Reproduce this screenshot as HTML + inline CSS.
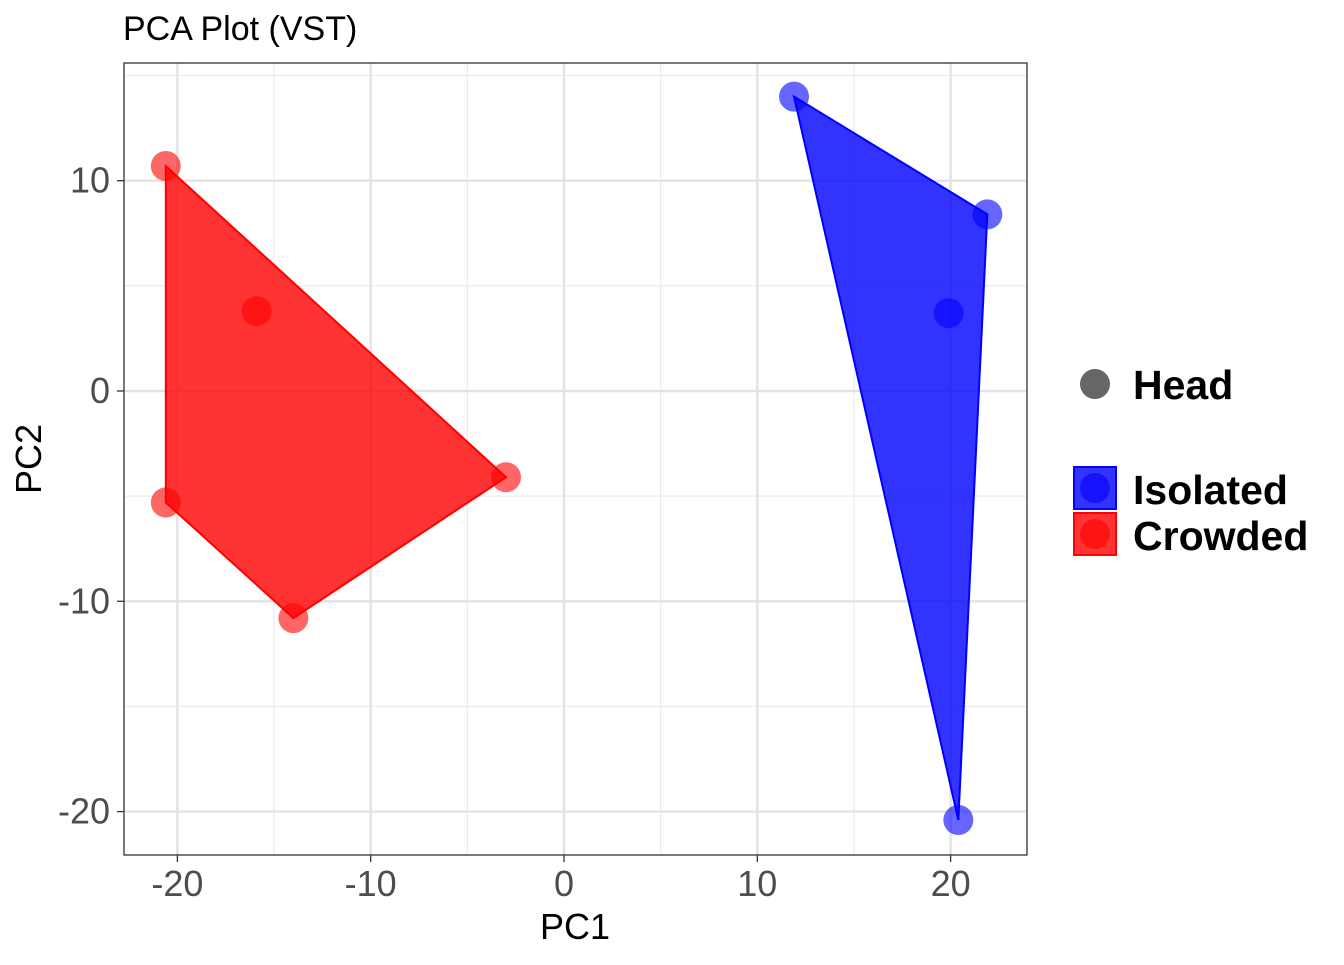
<!DOCTYPE html>
<html><head><meta charset="utf-8"><style>
body{margin:0;background:#fff;}
svg text{font-family:"Liberation Sans",Arial,sans-serif;}
</style></head><body>
<svg id="chart" width="1344" height="960" viewBox="0 0 1344 960">
<text x="123" y="40" font-size="34" fill="#000">PCA Plot (VST)</text>
<g id="grid"></g>
<g id="marks"></g>
<rect x="124" y="63" width="903" height="792" fill="none" stroke="#333" stroke-width="1.3"/>
<g id="axes"></g>
<text x="575" y="939" font-size="36" text-anchor="middle">PC1</text>
<text transform="translate(41,459) rotate(-90)" font-size="36" text-anchor="middle">PC2</text>
<g>
<circle cx="1095" cy="384" r="15" fill="#666"/>
<text x="1133" y="399" font-size="41" font-weight="bold">Head</text>
<rect x="1074" y="467" width="42" height="42" fill="rgba(0,0,255,0.8)" stroke="#00f" stroke-width="2"/>
<circle cx="1095" cy="488" r="15" fill="rgba(0,0,255,0.6)"/>
<text x="1133" y="504" font-size="41" font-weight="bold">Isolated</text>
<rect x="1074" y="513" width="42" height="42" fill="rgba(255,0,0,0.8)" stroke="#f00" stroke-width="2"/>
<circle cx="1095" cy="534" r="15" fill="rgba(255,0,0,0.6)"/>
<text x="1133" y="550" font-size="41" font-weight="bold">Crowded</text>
</g>
</svg>
<script>
const crowdedX = [-20.6, -15.9, -20.6, -14.0, -3.0];
const crowdedY = [10.7, 3.8, -5.3, -10.8, -4.1];
const isolatedX = [11.9, 21.9, 19.9, 20.4];
const isolatedY = [14.0, 8.4, 3.7, -20.4];
const xTicks = [-20, -10, 0, 10, 20];
const yTicks = [-20, -10, 0, 10];
const xMinor = [-15, -5, 5, 15];
const yMinor = [-15, -5, 5, 15];

const NS = "http://www.w3.org/2000/svg";
function sx(v){ return 564 + v * 19.33; }
function sy(v){ return 391 - v * 21.03; }
function mk(tag, attrs, parent){
  const e = document.createElementNS(NS, tag);
  for (const k in attrs) e.setAttribute(k, attrs[k]);
  parent.appendChild(e); return e;
}
const grid = document.getElementById('grid');
const marks = document.getElementById('marks');
const axes = document.getElementById('axes');
xMinor.forEach(v=>{ const l=mk('line',{x1:sx(v),x2:sx(v),y1:63,y2:855,stroke:'#ebebeb','stroke-width':1.2},grid);

 });
yMinor.forEach(v=>{ const l=mk('line',{x1:124,x2:1027,y1:sy(v),y2:sy(v),stroke:'#ebebeb','stroke-width':1.2},grid);

 });
xTicks.forEach(v=>{
  const l=mk('line',{x1:sx(v),x2:sx(v),y1:63,y2:855,stroke:'#e3e3e3','stroke-width':2.4},grid);
  
  
  const t=mk('line',{x1:sx(v),x2:sx(v),y1:855,y2:862,stroke:'#333','stroke-width':1.3},axes);
  
  
  const tx=mk('text',{x:sx(v),y:896,'font-size':36,fill:'#4d4d4d','text-anchor':'middle'},axes);
  tx.textContent=v;
  
  
});
yTicks.forEach(v=>{
  const l=mk('line',{x1:124,x2:1027,y1:sy(v),y2:sy(v),stroke:'#e3e3e3','stroke-width':2.4},grid);
  
  
  const t=mk('line',{x1:117,x2:124,y1:sy(v),y2:sy(v),stroke:'#333','stroke-width':1.3},axes);
  
  
  const tx=mk('text',{x:110,y:sy(v)+12,'font-size':36,fill:'#4d4d4d','text-anchor':'end'},axes);
  tx.textContent=v;
  
  
});
function hull(pts){
  pts = pts.slice().sort((a,b)=>a[0]-b[0]||a[1]-b[1]);
  const cr=(o,a,b)=>(a[0]-o[0])*(b[1]-o[1])-(a[1]-o[1])*(b[0]-o[0]);
  const lo=[],up=[];
  for(const p of pts){ while(lo.length>=2&&cr(lo[lo.length-2],lo[lo.length-1],p)<=0) lo.pop(); lo.push(p); }
  for(const p of pts.slice().reverse()){ while(up.length>=2&&cr(up[up.length-2],up[up.length-1],p)<=0) up.pop(); up.push(p); }
  return lo.slice(0,-1).concat(up.slice(0,-1));
}
function group(xs, ys, col, fill, name){
  xs.forEach((x,i)=>{
    const c=mk('circle',{cx:sx(x),cy:sy(ys[i]),r:15,fill:fill},marks);
    
    
  });
  const h=hull(xs.map((x,i)=>[x,ys[i]]));
  const p=mk('polygon',{points:h.map(q=>sx(q[0])+','+sy(q[1])).join(' '),fill:col,'fill-opacity':0.8,stroke:col,'stroke-width':2},marks);
  
  
}
group(crowdedX, crowdedY, '#ff0000', 'rgba(255,0,0,0.6)', 'crowded');
group(isolatedX, isolatedY, '#0000ff', 'rgba(0,0,255,0.6)', 'isolated');
</script>
</body></html>
